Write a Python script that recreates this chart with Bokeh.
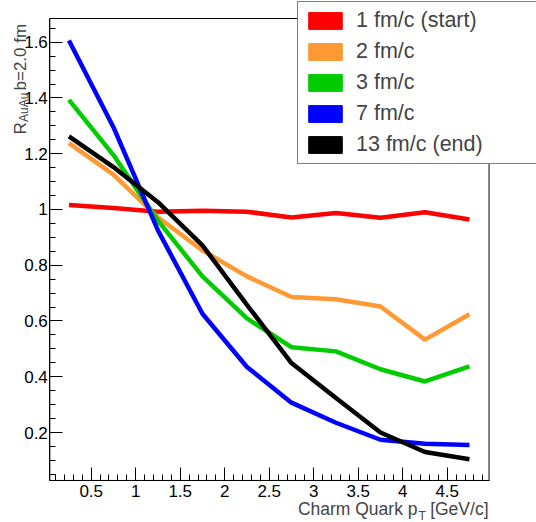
import numpy as np
from bokeh.plotting import figure
from bokeh.models import (Range1d, FixedTicker, Label, Legend, LegendItem, BoxAnnotation)
from bokeh.embed import file_html
from bokeh.resources import INLINE

# ---- data ----
pt = [0.25, 0.75, 1.25, 1.75, 2.25, 2.75, 3.25, 3.75, 4.25, 4.75]
r_1fm = [1.016, 1.005, 0.992, 0.995, 0.992, 0.971, 0.987, 0.970, 0.990, 0.964]
r_2fm = [1.238, 1.125, 0.972, 0.853, 0.760, 0.686, 0.678, 0.652, 0.533, 0.624]
r_3fm = [1.393, 1.195, 0.960, 0.760, 0.609, 0.506, 0.491, 0.427, 0.383, 0.437]
r_7fm = [1.606, 1.295, 0.925, 0.626, 0.435, 0.307, 0.235, 0.174, 0.160, 0.155]
r_13fm = [1.262, 1.152, 1.026, 0.871, 0.658, 0.449, 0.324, 0.200, 0.130, 0.104]

series_labels = ["1 fm/c (start)", "2 fm/c", "3 fm/c", "7 fm/c", "13 fm/c (end)"]
series_values = [r_1fm, r_2fm, r_3fm, r_7fm, r_13fm]
series_colors = ["#ff0000", "#ff9933", "#00cc00", "#0000ff", "#000000"]

x_ticks = [0.5, 1.0, 1.5, 2.0, 2.5, 3.0, 3.5, 4.0, 4.5]
x_tick_labels = ["0.5", "1", "1.5", "2", "2.5", "3", "3.5", "4", "4.5"]
y_ticks = [0.2, 0.4, 0.6, 0.8, 1.0, 1.2, 1.4, 1.6]
y_tick_labels = ["0.2", "0.4", "0.6", "0.8", "1", "1.2", "1.4", "1.6"]

# axis (ROOT frame) limits
X_MIN, X_MAX = 0.035, 4.97
Y_MIN, Y_MAX = 0.028, 1.685

FONT = "Liberation Sans"

# the plotting area covers the whole canvas; the ROOT frame is drawn inside it
p = figure(width=536, height=522, output_backend="svg", toolbar_location=None,
           x_range=Range1d(-0.519, 5.503), y_range=Range1d(-0.1228, 1.7495),
           min_border_left=0, min_border_right=0, min_border_top=0,
           min_border_bottom=0)
p.xgrid.visible = False
p.ygrid.visible = False
p.outline_line_color = None
p.background_fill_color = "white"
p.border_fill_color = "white"

x_minor = [round(v, 2) for v in np.arange(0.1, 4.95, 0.1)]
y_minor = [round(v, 3) for v in np.arange(0.05, 1.68, 0.05)]

p.xaxis.ticker = FixedTicker(ticks=x_ticks, minor_ticks=x_minor)
p.yaxis.ticker = FixedTicker(ticks=y_ticks, minor_ticks=y_minor)
p.xaxis.major_label_overrides = {t: l for t, l in zip(x_ticks, x_tick_labels)}
p.yaxis.major_label_overrides = {t: l for t, l in zip(y_ticks, y_tick_labels)}
p.xaxis.bounds = (X_MIN, X_MAX)
p.yaxis.bounds = (Y_MIN, Y_MAX)
p.xaxis.fixed_location = Y_MIN
p.yaxis.fixed_location = X_MIN

for ax in (p.xaxis[0], p.yaxis[0]):
    ax.major_tick_in = 13
    ax.major_tick_out = 0
    ax.minor_tick_in = 6
    ax.minor_tick_out = 0
    ax.axis_line_color = "black"
    ax.major_tick_line_color = "black"
    ax.minor_tick_line_color = "black"
    ax.major_label_text_font = FONT
    ax.major_label_text_font_size = "17px"
    ax.major_label_text_color = "black"
p.xaxis.major_label_standoff = 5
p.yaxis.major_label_standoff = 2

# ROOT frame box
p.add_layout(BoxAnnotation(left=X_MIN, right=X_MAX, bottom=Y_MIN, top=Y_MAX,
                           fill_color=None, fill_alpha=0, line_color="black",
                           line_width=1, line_alpha=1))

for vals, col in zip(series_values, series_colors):
    p.line(pt, vals, line_color=col, line_width=4.5)

# legend with filled boxes (legend-only renderers, no visible data)
items = []
for lab, col in zip(series_labels, series_colors):
    r = p.quad(left=[np.nan], right=[np.nan], top=[np.nan], bottom=[np.nan],
               fill_color=col, line_color=col)
    items.append(LegendItem(label=lab, renderers=[r]))
leg = Legend(items=items, location=(297, 358), orientation="vertical",
             glyph_width=42, glyph_height=21, label_standoff=10,
             label_text_font=FONT, label_text_font_size="21.5px",
             label_width=200, label_height=21, spacing=6, padding=6, margin=0,
             border_line_color="black", border_line_width=1,
             background_fill_color="white", background_fill_alpha=1.0)
p.add_layout(leg, "center")

# x axis title (canvas units, origin top-left)
p.add_layout(Label(x=417, y=508, x_units="canvas", y_units="canvas",
                   text="Charm Quark p", text_font=FONT, text_font_size="17.5px",
                   text_align="right", text_baseline="alphabetic"))
p.add_layout(Label(x=418, y=515, x_units="canvas", y_units="canvas", text="T",
                   text_font=FONT, text_font_size="12px", text_align="left",
                   text_baseline="alphabetic"))
p.add_layout(Label(x=488, y=508, x_units="canvas", y_units="canvas", text="[GeV/c]",
                   text_font=FONT, text_font_size="17.5px", text_align="right",
                   text_baseline="alphabetic"))

# y axis title (rotated)
p.add_layout(Label(x=19.5, y=134, x_units="canvas", y_units="canvas", text="R",
                   text_font=FONT, text_font_size="17px", text_align="left",
                   text_baseline="alphabetic", angle=np.pi / 2))
p.add_layout(Label(x=23.5, y=121.5, x_units="canvas", y_units="canvas", text="AuAu",
                   text_font=FONT, text_font_size="12px", text_align="left",
                   text_baseline="alphabetic", angle=np.pi / 2))
p.add_layout(Label(x=19.5, y=90, x_units="canvas", y_units="canvas", text=" b=2.0 fm",
                   text_font=FONT, text_font_size="17px", text_align="left",
                   text_baseline="alphabetic", angle=np.pi / 2))

out = file_html(p, INLINE)
open("out.html", "w").write(out)
